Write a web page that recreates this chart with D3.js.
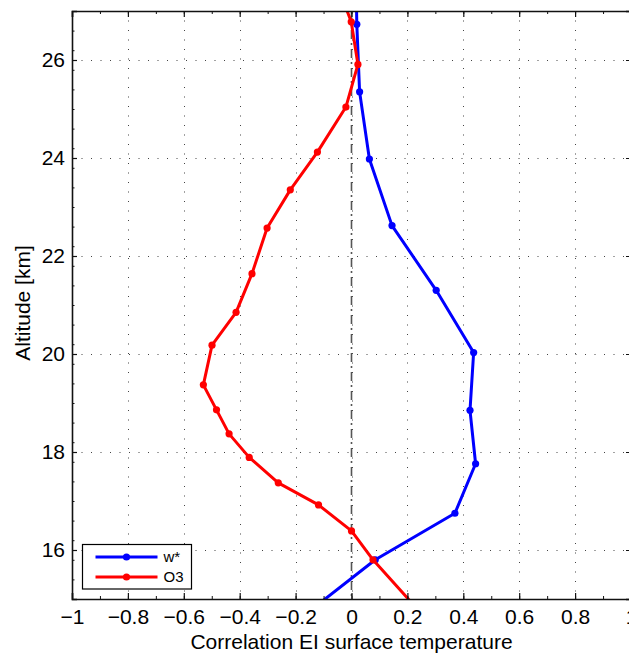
<!DOCTYPE html>
<html>
<head>
<meta charset="utf-8">
<script src="https://cdn.jsdelivr.net/npm/d3@7"></script>
<style>
  body { margin: 0; background: #fff; }
  svg { display: block; font-family: "Liberation Sans", Arial, sans-serif; }
</style>
</head>
<body>
<div id="chart"></div>
<script>
const X_TICKS = [-1, -0.8, -0.6, -0.4, -0.2, 0, 0.2, 0.4, 0.6, 0.8, 1];
const Y_TICKS = [16, 18, 20, 22, 24, 26];

// w* correlation vs altitude
const wstarCorr = [0.015, 0.019, 0.029, 0.064, 0.145, 0.303, 0.437, 0.424, 0.444, 0.370, 0.085, -0.117];
const wstarAlt = [28.0, 26.73, 25.35, 23.98, 22.62, 21.30, 20.03, 18.85, 17.76, 16.75, 15.80, 14.90];

// O3 correlation vs altitude
const o3Corr = [-0.062, -0.001, 0.023, -0.020, -0.122, -0.219, -0.302, -0.356, -0.413, -0.499, -0.530, -0.483, -0.438, -0.366, -0.262, -0.118, 0.0, 0.077, 0.219];
const o3Alt = [27.7, 26.78, 25.91, 25.04, 24.12, 23.35, 22.57, 21.64, 20.85, 20.18, 19.37, 18.86, 18.37, 17.89, 17.37, 16.92, 16.39, 15.80, 14.90];

const SERIES = [
  { name: "w*", color: "#0000ff", xs: wstarCorr, ys: wstarAlt },
  { name: "O3", color: "#ff0000", xs: o3Corr, ys: o3Alt },
];

const width = 629;
const height = 654;
const plot = { left: 72, right: 631, top: 11, bottom: 599 };

const svg = d3.select("#chart").append("svg").attr("width", width).attr("height", height);

const x = d3.scaleLinear().domain([-1, 1]).range([plot.left, plot.right]);
const y = d3.scaleLinear().domain([15, 27]).range([plot.bottom, plot.top]);

svg.append("defs").append("clipPath").attr("id", "plot-clip")
  .append("rect")
  .attr("x", plot.left).attr("y", plot.top)
  .attr("width", plot.right - plot.left).attr("height", plot.bottom - plot.top);

// dotted grid
const grid = svg.append("g").attr("stroke", "#444").attr("stroke-width", 1).attr("stroke-dasharray", "1,8.5");
grid.selectAll("line.vx")
  .data(X_TICKS.slice(1, -1))
  .join("line")
  .attr("x1", (d) => Math.round(x(d)) + 0.5).attr("x2", (d) => Math.round(x(d)) + 0.5)
  .attr("y1", plot.top).attr("y2", plot.bottom);
grid.selectAll("line.hy")
  .data(Y_TICKS)
  .join("line")
  .attr("y1", (d) => Math.round(y(d)) + 0.5).attr("y2", (d) => Math.round(y(d)) + 0.5)
  .attr("x1", plot.left).attr("x2", plot.right);

// zero line (dash-dot)
svg.append("line")
  .attr("x1", x(0)).attr("x2", x(0))
  .attr("y1", plot.top).attr("y2", plot.bottom)
  .attr("stroke", "#555")
  .attr("stroke-width", 1.6)
  .attr("stroke-dasharray", "9,4,2,4");

// series
const lineGen = d3.line().x((d) => x(d[0])).y((d) => y(d[1]));
const seriesG = svg.append("g").attr("clip-path", "url(#plot-clip)");
SERIES.forEach((s) => {
  const pts = s.xs.map((v, i) => [v, s.ys[i]]);
  seriesG.append("path")
    .datum(pts)
    .attr("d", lineGen)
    .attr("fill", "none")
    .attr("stroke", s.color)
    .attr("stroke-width", 3)
    .attr("stroke-linejoin", "round");
  seriesG.append("g")
    .selectAll("circle")
    .data(pts)
    .join("circle")
    .attr("cx", (d) => x(d[0]))
    .attr("cy", (d) => y(d[1]))
    .attr("r", 3.6)
    .attr("fill", s.color);
});

// axes: inward ticks, major + minor
const xMinor = d3.range(-1, 1.001, 0.1).map((d) => +d.toFixed(2));
const yMinor = d3.range(15, 27.001, 0.4).map((d) => +d.toFixed(2));
const axisColor = "#111";
const tickFont = 21;

svg.append("g")
  .attr("transform", `translate(0, ${plot.bottom})`)
  .call(d3.axisBottom(x).tickValues(X_TICKS).tickSize(-6).tickPadding(10)
    .tickFormat((d) => (d === 0 ? "0" : d3.format("")(d).replace("-", "\u2212"))))
  .call((g) => g.select(".domain").attr("stroke", axisColor).attr("stroke-width", 1.6))
  .call((g) => g.selectAll(".tick line").attr("stroke", axisColor).attr("stroke-width", 1.2))
  .call((g) => g.selectAll("text").attr("font-size", tickFont).attr("fill", "#000").attr("font-family", "Liberation Sans, Arial, sans-serif"));

svg.append("g")
  .attr("transform", `translate(0, ${plot.bottom})`)
  .call(d3.axisBottom(x).tickValues(xMinor).tickSize(-3).tickFormat(""))
  .call((g) => g.select(".domain").remove())
  .call((g) => g.selectAll(".tick line").attr("stroke", axisColor));

svg.append("g")
  .attr("transform", `translate(0, ${plot.top})`)
  .call(d3.axisTop(x).tickValues(X_TICKS).tickSize(-6).tickFormat(""))
  .call((g) => g.select(".domain").attr("stroke", axisColor).attr("stroke-width", 1.6))
  .call((g) => g.selectAll(".tick line").attr("stroke", axisColor).attr("stroke-width", 1.2));

svg.append("g")
  .attr("transform", `translate(0, ${plot.top})`)
  .call(d3.axisTop(x).tickValues(xMinor).tickSize(-3).tickFormat(""))
  .call((g) => g.select(".domain").remove())
  .call((g) => g.selectAll(".tick line").attr("stroke", axisColor));

svg.append("g")
  .attr("transform", `translate(${plot.left}, 0)`)
  .call(d3.axisLeft(y).tickValues(Y_TICKS).tickSize(-5).tickPadding(7))
  .call((g) => g.select(".domain").attr("stroke", axisColor).attr("stroke-width", 1.6))
  .call((g) => g.selectAll(".tick line").attr("stroke", axisColor).attr("stroke-width", 1.2))
  .call((g) => g.selectAll("text").attr("font-size", tickFont).attr("fill", "#000").attr("font-family", "Liberation Sans, Arial, sans-serif"));

svg.append("g")
  .attr("transform", `translate(${plot.left}, 0)`)
  .call(d3.axisLeft(y).tickValues(yMinor).tickSize(-2.5).tickFormat(""))
  .call((g) => g.select(".domain").remove())
  .call((g) => g.selectAll(".tick line").attr("stroke", axisColor));

svg.append("g")
  .attr("transform", `translate(${plot.right}, 0)`)
  .call(d3.axisRight(y).tickValues(Y_TICKS).tickSize(-5).tickFormat(""))
  .call((g) => g.select(".domain").attr("stroke", axisColor).attr("stroke-width", 1.6))
  .call((g) => g.selectAll(".tick line").attr("stroke", axisColor));

// axis labels
svg.append("text")
  .attr("x", x(0))
  .attr("y", 648.5)
  .attr("text-anchor", "middle")
  .attr("font-size", 21)
  .text("Correlation EI surface temperature");

svg.append("text")
  .attr("transform", "translate(29.5, 303) rotate(-90)")
  .attr("text-anchor", "middle")
  .attr("font-size", 21)
  .text("Altitude [km]");

// legend
const legend = svg.append("g").attr("transform", "translate(82.5, 544.5)");
legend.append("rect")
  .attr("width", 109).attr("height", 44.5)
  .attr("fill", "#fff").attr("stroke", "#000").attr("stroke-width", 1.2);
SERIES.forEach((s, i) => {
  const ly = 12.5 + i * 20;
  legend.append("line")
    .attr("x1", 13).attr("x2", 75).attr("y1", ly).attr("y2", ly)
    .attr("stroke", s.color).attr("stroke-width", 3);
  legend.append("circle").attr("cx", 44).attr("cy", ly).attr("r", 3.6).attr("fill", s.color);
  legend.append("text")
    .attr("x", 81).attr("y", ly + 5.3)
    .attr("font-size", 15)
    .text(s.name);
});
</script>
</body>
</html>
